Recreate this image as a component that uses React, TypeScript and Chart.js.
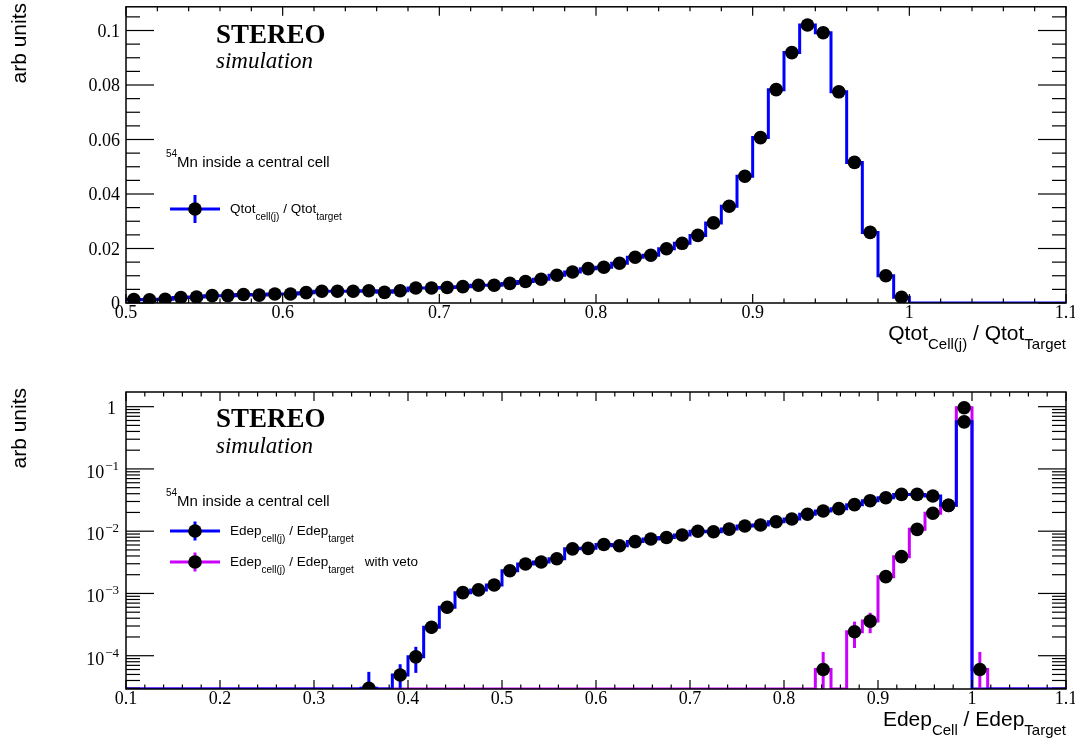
import React, { useEffect, useRef } from "react";
import { Chart, registerables } from "chart.js";

Chart.register(...registerables);

// ---------------- data ----------------
// Top panel: Qtot_cell(j) / Qtot_target, 60 bins from 0.5 to 1.1
const qtotRange = [0.5, 1.1];
const qtotValues = [
  0.0013, 0.0012, 0.0014, 0.002, 0.0022, 0.0027, 0.0027, 0.0031, 0.0029, 0.0033,
  0.0033, 0.0038, 0.0043, 0.0043, 0.0043, 0.0045, 0.0039, 0.0045, 0.0055, 0.0055,
  0.0057, 0.006, 0.0065, 0.0065, 0.0072, 0.0079, 0.0087, 0.0102, 0.0114, 0.0126,
  0.0131, 0.0146, 0.0168, 0.0175, 0.0199, 0.0219, 0.0248, 0.0294, 0.0355, 0.0465,
  0.0607, 0.0783, 0.0919, 0.102, 0.0992, 0.0775, 0.0516, 0.0259, 0.01, 0.0021,
  0, 0, 0, 0, 0, 0, 0, 0, 0, 0,
];
const qtotXTicks = ["0.5", "0.6", "0.7", "0.8", "0.9", "1", "1.1"];
const qtotYTicks = ["0", "0.02", "0.04", "0.06", "0.08", "0.1"];
const qtotYMax = 0.1087;

// Bottom panel: Edep_cell(j) / Edep_target, 60 bins from 0.1 to 1.1
const edepRange = [0.1, 1.1];
const edepValues = [
  0, 0, 0, 0, 0, 0, 0, 0, 0, 0,
  0, 0, 0, 0, 0, 3.0e-5, 0, 4.9e-5, 9.6e-5, 2.86e-4,
  6.0e-4, 1.03e-3, 1.14e-3, 1.37e-3, 2.32e-3, 2.97e-3, 3.2e-3, 3.6e-3, 5.2e-3, 5.3e-3,
  6.1e-3, 5.85e-3, 6.8e-3, 7.5e-3, 7.9e-3, 8.7e-3, 1.0e-2, 9.8e-3, 1.08e-2, 1.21e-2,
  1.26e-2, 1.42e-2, 1.57e-2, 1.87e-2, 2.11e-2, 2.3e-2, 2.67e-2, 3.09e-2, 3.45e-2, 3.9e-2,
  3.9e-2, 3.67e-2, 2.6e-2, 0.57, 0, 0, 0, 0, 0, 0,
];
const edepErrors = [
  0, 0, 0, 0, 0, 0, 0, 0, 0, 0,
  0, 0, 0, 0, 0, 2.5e-5, 0, 2.4e-5, 4.3e-5, 6e-5,
  8e-5, 1e-4, 1.1e-4, 1.2e-4, 1.5e-4, 1.7e-4, 1.8e-4, 1.9e-4, 2.2e-4, 2.2e-4,
  2.4e-4, 2.3e-4, 2.5e-4, 2.6e-4, 2.7e-4, 2.8e-4, 3e-4, 3e-4, 3.1e-4, 3.3e-4,
  3.4e-4, 3.6e-4, 3.8e-4, 4.1e-4, 4.4e-4, 4.6e-4, 4.9e-4, 5.3e-4, 5.6e-4, 6e-4,
  6e-4, 5.8e-4, 4.9e-4, 2.3e-3, 0, 0, 0, 0, 0, 0,
];
const edepVetoValues = [
  0, 0, 0, 0, 0, 0, 0, 0, 0, 0,
  0, 0, 0, 0, 0, 0, 0, 0, 0, 0,
  0, 0, 0, 0, 0, 0, 0, 0, 0, 0,
  0, 0, 0, 0, 0, 0, 0, 0, 0, 0,
  0, 0, 0, 0, 6.0e-5, 0, 2.43e-4, 3.6e-4, 1.86e-3, 3.9e-3,
  1.07e-2, 1.94e-2, 2.6e-2, 0.96, 6.0e-5, 0, 0, 0, 0, 0,
];
const edepVetoErrors = [
  0, 0, 0, 0, 0, 0, 0, 0, 0, 0,
  0, 0, 0, 0, 0, 0, 0, 0, 0, 0,
  0, 0, 0, 0, 0, 0, 0, 0, 0, 0,
  0, 0, 0, 0, 0, 0, 0, 0, 0, 0,
  0, 0, 0, 0, 5.5e-5, 0, 1.1e-4, 1.3e-4, 3e-4, 4.5e-4,
  7e-4, 1e-3, 1.2e-3, 7e-3, 5.5e-5, 0, 0, 0, 0, 0,
];
const edepXTicks = ["0.1", "0.2", "0.3", "0.4", "0.5", "0.6", "0.7", "0.8", "0.9", "1", "1.1"];
const edepYDecades = [0, -1, -2, -3, -4];
const edepYMin = 2.92e-5;
const edepYMax = 1.72;

// ---------------- style ----------------
const SANS = '"Liberation Sans", Arial, Helvetica, sans-serif';
const SERIF = '"Liberation Serif", "Times New Roman", Times, serif';
const BLUE = "#0000ff";
const VIOLET = "#cc00ff";
const W = 1075;
const H = 371;
const MARKER_R = 6.8;

type Seg = { t: string; size: number; dy: number; dx?: number; font?: string };

function segsWidth(ctx: CanvasRenderingContext2D, segs: Seg[]) {
  let w = 0;
  for (const s of segs) {
    ctx.font = `${s.size}px ${s.font || SANS}`;
    w += ctx.measureText(s.t).width + (s.dx || 0);
  }
  return w;
}
function drawSegs(ctx: CanvasRenderingContext2D, segs: Seg[], x: number, y: number) {
  let cx = x;
  ctx.textAlign = "left";
  ctx.textBaseline = "alphabetic";
  for (const s of segs) {
    ctx.font = `${s.size}px ${s.font || SANS}`;
    cx += s.dx || 0;
    ctx.fillText(s.t, cx, y + s.dy);
    cx += ctx.measureText(s.t).width;
  }
}

function stepLine(range: number[], vals: number[], floor: number) {
  const w = (range[1] - range[0]) / vals.length;
  const pts: { x: number; y: number }[] = [];
  vals.forEach((v, i) => {
    const y = v > 0 ? v : floor;
    pts.push({ x: range[0] + i * w, y }, { x: range[0] + (i + 1) * w, y });
  });
  return pts;
}
function markerPoints(range: number[], vals: number[], errs?: number[]) {
  const w = (range[1] - range[0]) / vals.length;
  return vals
    .map((v, i) => ({ x: range[0] + (i + 0.5) * w, y: v, e: errs ? errs[i] : 0 }))
    .filter((p) => p.y > 0);
}

const errorBarPlugin = {
  id: "errbars",
  beforeDatasetDraw(chart: any, args: any) {
    const ds: any = chart.data.datasets[args.index];
    if (!ds.errColor) return;
    const { ctx, chartArea: a } = chart;
    const x = chart.scales.x;
    const y = chart.scales.y;
    ctx.save();
    ctx.beginPath();
    ctx.rect(a.left, a.top, a.right - a.left, a.bottom - a.top);
    ctx.clip();
    ctx.strokeStyle = ds.errColor;
    ctx.lineWidth = 3;
    for (const p of ds.data) {
      if (!p.e) continue;
      const px = x.getPixelForValue(p.x);
      const lo = p.y - p.e;
      const y1 = lo > 0 ? y.getPixelForValue(lo) : a.bottom + 10;
      const y2 = y.getPixelForValue(p.y + p.e);
      ctx.beginPath();
      ctx.moveTo(px, y1);
      ctx.lineTo(px, y2);
      ctx.stroke();
    }
    ctx.restore();
  },
};

type Panel = {
  xMin: number;
  xMax: number;
  xTicks: string[];
  xMinorStep: number;
  yLog: boolean;
  yTicks?: string[];
  yMinorStep?: number;
  yMax: number;
  yMin: number;
  yDecades?: number[];
  xTitle: Seg[];
  yTitleY: number;
  annotate: (ctx: CanvasRenderingContext2D) => void;
};

function framePlugin(panel: Panel) {
  return {
    id: "rootframe",
    afterDraw(chart: any) {
      const { ctx, chartArea: a } = chart;
      const x = chart.scales.x;
      const y = chart.scales.y;
      ctx.save();
      ctx.strokeStyle = "#000";
      ctx.fillStyle = "#000";
      ctx.lineWidth = 1.5;
      ctx.strokeRect(a.left, a.top, a.right - a.left, a.bottom - a.top);
      ctx.lineWidth = 1.2;
      const seg = (x1: number, y1: number, x2: number, y2: number) => {
        ctx.beginPath();
        ctx.moveTo(x1, y1);
        ctx.lineTo(x2, y2);
        ctx.stroke();
      };
      // x ticks
      const xMaj = panel.xTicks.map(Number);
      const nx = Math.round((panel.xMax - panel.xMin) / panel.xMinorStep);
      for (let i = 0; i <= nx; i++) {
        const v = panel.xMin + i * panel.xMinorStep;
        const px = x.getPixelForValue(v);
        const major = xMaj.some((m) => Math.abs(m - v) < 1e-6);
        const len = major ? 9 : 4.5;
        seg(px, a.bottom, px, a.bottom - len);
        seg(px, a.top, px, a.top + len);
      }
      // x labels
      ctx.font = `18px ${SERIF}`;
      ctx.textAlign = "center";
      ctx.textBaseline = "alphabetic";
      panel.xTicks.forEach((t) => {
        const px = x.getPixelForValue(Number(t));
        ctx.fillText(t, px, a.bottom + 15);
      });
      // y ticks
      if (!panel.yLog) {
        const step = panel.yMinorStep || 0.005;
        const ny = Math.floor(panel.yMax / step + 1e-6);
        const yMaj = (panel.yTicks || []).map(Number);
        for (let i = 0; i <= ny; i++) {
          const v = i * step;
          const py = y.getPixelForValue(v);
          const major = yMaj.some((m) => Math.abs(m - v) < 1e-9);
          const len = major ? 28 : 14;
          seg(a.left, py, a.left + len, py);
          seg(a.right, py, a.right - len, py);
        }
        ctx.font = `18px ${SERIF}`;
        ctx.textAlign = "right";
        (panel.yTicks || []).forEach((t) => {
          const py = y.getPixelForValue(Number(t));
          ctx.fillText(t, a.left - 6, py + 6);
        });
      } else {
        for (let d = -6; d <= 1; d++) {
          for (let k = 1; k <= 9; k++) {
            const v = k * Math.pow(10, d);
            if (v < panel.yMin || v > panel.yMax) continue;
            const py = y.getPixelForValue(v);
            const len = k === 1 ? 28 : 14;
            seg(a.left, py, a.left + len, py);
            seg(a.right, py, a.right - len, py);
          }
        }
        (panel.yDecades || []).forEach((d) => {
          const py = y.getPixelForValue(Math.pow(10, d));
          ctx.textAlign = "right";
          if (d === 0) {
            ctx.font = `18px ${SERIF}`;
            ctx.fillText("1", a.left - 10, py + 7);
          } else {
            const exp = "\u2212" + String(-d);
            ctx.font = `13px ${SERIF}`;
            const ew = ctx.measureText(exp).width;
            ctx.fillText(exp, a.left - 7, py + 1);
            ctx.font = `18px ${SERIF}`;
            ctx.fillText("10", a.left - 7 - ew - 1, py + 9);
          }
        });
      }
      // x title (right aligned)
      const tw = segsWidth(ctx, panel.xTitle);
      drawSegs(ctx, panel.xTitle, a.right - tw, a.bottom + 37);
      // y title
      ctx.save();
      ctx.translate(26, panel.yTitleY);
      ctx.rotate(-Math.PI / 2);
      ctx.font = `21px ${SANS}`;
      ctx.textAlign = "right";
      ctx.textBaseline = "alphabetic";
      ctx.fillText("arb units", 0, 0);
      ctx.restore();
      // annotations
      panel.annotate(ctx);
      ctx.restore();
    },
  };
}

function drawStereo(ctx: CanvasRenderingContext2D, y1: number, y2: number) {
  ctx.fillStyle = "#000";
  ctx.textAlign = "left";
  ctx.textBaseline = "alphabetic";
  ctx.font = `bold 27px ${SERIF}`;
  ctx.fillText("STEREO", 216, y1);
  ctx.font = `italic 23px ${SERIF}`;
  ctx.fillText("simulation", 216, y2);
}
function drawHeader(ctx: CanvasRenderingContext2D, y: number) {
  drawSegs(
    ctx,
    [
      { t: "54", size: 10, dy: -10 },
      { t: "Mn inside a central cell", size: 15, dy: 0 },
    ],
    166,
    y
  );
}
function drawEntry(
  ctx: CanvasRenderingContext2D,
  cy: number,
  color: string,
  barHalf: number,
  segs: Seg[]
) {
  ctx.strokeStyle = color;
  ctx.lineWidth = 3;
  ctx.beginPath();
  ctx.moveTo(170, cy);
  ctx.lineTo(220, cy);
  ctx.stroke();
  ctx.beginPath();
  ctx.moveTo(195, cy - barHalf);
  ctx.lineTo(195, cy + barHalf);
  ctx.stroke();
  ctx.fillStyle = "#000";
  ctx.beginPath();
  ctx.arc(195, cy, MARKER_R, 0, Math.PI * 2);
  ctx.fill();
  drawSegs(ctx, segs, 230, cy + 4);
}

const topPanel: Panel = {
  xMin: qtotRange[0],
  xMax: qtotRange[1],
  xTicks: qtotXTicks,
  xMinorStep: 0.02,
  yLog: false,
  yTicks: qtotYTicks,
  yMinorStep: 0.005,
  yMin: 0,
  yMax: qtotYMax,
  xTitle: [
    { t: "Qtot", size: 21, dy: 0 },
    { t: "Cell(j)", size: 15, dy: 9 },
    { t: " / Qtot", size: 21, dy: 0 },
    { t: "Target", size: 15, dy: 9 },
  ],
  yTitleY: 3,
  annotate: (ctx) => {
    drawStereo(ctx, 43, 68);
    drawHeader(ctx, 167);
    drawEntry(ctx, 209, BLUE, 14, [
      { t: "Qtot", size: 13.5, dy: 0 },
      { t: "cell(j)", size: 10, dy: 7 },
      { t: " / Qtot", size: 13.5, dy: 0 },
      { t: "target", size: 10, dy: 7 },
    ]);
  },
};

const botPanel: Panel = {
  xMin: edepRange[0],
  xMax: edepRange[1],
  xTicks: edepXTicks,
  xMinorStep: 0.02,
  yLog: true,
  yMin: edepYMin,
  yMax: edepYMax,
  yDecades: edepYDecades,
  xTitle: [
    { t: "Edep", size: 21, dy: 0 },
    { t: "Cell", size: 15, dy: 9 },
    { t: " / Edep", size: 21, dy: 0 },
    { t: "Target", size: 15, dy: 9 },
  ],
  yTitleY: 17,
  annotate: (ctx) => {
    drawStereo(ctx, 56, 82);
    drawHeader(ctx, 135);
    drawEntry(ctx, 160, BLUE, 9.5, [
      { t: "Edep", size: 13.5, dy: 0 },
      { t: "cell(j)", size: 10, dy: 7 },
      { t: " / Edep", size: 13.5, dy: 0 },
      { t: "target", size: 10, dy: 7 },
    ]);
    drawEntry(ctx, 191, VIOLET, 9.5, [
      { t: "Edep", size: 13.5, dy: 0 },
      { t: "cell(j)", size: 10, dy: 7 },
      { t: " / Edep", size: 13.5, dy: 0 },
      { t: "target", size: 10, dy: 7 },
      { t: "with veto", size: 13.5, dy: 0, dx: 11 },
    ]);
  },
};

function baseOptions(padding: any, yScale: any) {
  return {
    animation: false as const,
    responsive: false,
    maintainAspectRatio: false,
    events: [] as any[],
    layout: { padding },
    plugins: { legend: { display: false }, tooltip: { enabled: false } },
    scales: {
      x: { type: "linear" as const, display: false },
      y: { ...yScale, display: false },
    },
  };
}

function markerDataset(data: any[], color: string, order: number) {
  return {
    type: "scatter",
    data,
    pointRadius: MARKER_R,
    pointBackgroundColor: "#000",
    pointBorderColor: "#000",
    pointBorderWidth: 0,
    order,
    errColor: color,
  } as any;
}
function lineDataset(data: any[], color: string, order: number) {
  return {
    type: "line",
    data,
    borderColor: color,
    borderWidth: 3,
    pointRadius: 0,
    fill: false,
    tension: 0,
    order,
  } as any;
}

export default function App() {
  const topRef = useRef<HTMLCanvasElement>(null);
  const botRef = useRef<HTMLCanvasElement>(null);

  useEffect(() => {
    const topOpts: any = baseOptions(
      { left: 126, right: 9, top: 5, bottom: 68 },
      { type: "linear", min: 0, max: qtotYMax }
    );
    topOpts.scales.x.min = qtotRange[0];
    topOpts.scales.x.max = qtotRange[1];
    const top = new Chart(topRef.current as HTMLCanvasElement, {
      type: "scatter",
      data: {
        datasets: [
          lineDataset(stepLine(qtotRange, qtotValues, 0), BLUE, 2),
          markerDataset(markerPoints(qtotRange, qtotValues), BLUE, 0),
        ],
      },
      options: topOpts,
      plugins: [errorBarPlugin as any, framePlugin(topPanel) as any],
    });

    const botOpts: any = baseOptions(
      { left: 126, right: 9, top: 21, bottom: 53 },
      { type: "logarithmic", min: edepYMin, max: edepYMax }
    );
    botOpts.scales.x.min = edepRange[0];
    botOpts.scales.x.max = edepRange[1];
    const bot = new Chart(botRef.current as HTMLCanvasElement, {
      type: "scatter",
      data: {
        datasets: [
          lineDataset(stepLine(edepRange, edepVetoValues, edepYMin), VIOLET, 4),
          lineDataset(stepLine(edepRange, edepValues, edepYMin), BLUE, 3),
          markerDataset(markerPoints(edepRange, edepVetoValues, edepVetoErrors), VIOLET, 1),
          markerDataset(markerPoints(edepRange, edepValues, edepErrors), BLUE, 0),
        ],
      },
      options: botOpts,
      plugins: [errorBarPlugin as any, framePlugin(botPanel) as any],
    });

    return () => {
      top.destroy();
      bot.destroy();
    };
  }, []);

  return (
    <div
      style={{
        position: "fixed",
        left: 0,
        top: 0,
        width: W,
        height: 2 * H,
        background: "#fff",
      }}
    >
      <canvas ref={topRef} width={W} height={H} style={{ display: "block" }} />
      <canvas ref={botRef} width={W} height={H} style={{ display: "block" }} />
    </div>
  );
}
